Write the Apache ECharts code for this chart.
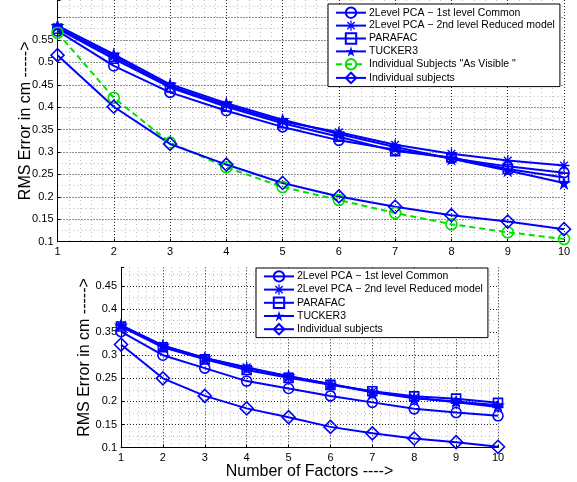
<!DOCTYPE html>
<html>
<head>
<meta charset="utf-8">
<script src="https://cdn.jsdelivr.net/npm/echarts@6/dist/echarts.min.js"></script>
<style>html,body{margin:0;padding:0;background:#fff}#main{width:577px;height:482px}</style>
</head>
<body>
<div id="main"></div>
<script>
var factors = [1, 2, 3, 4, 5, 6, 7, 8, 9, 10];

// upper panel
var topCommon  = [0.570, 0.492, 0.433, 0.392, 0.356, 0.326, 0.305, 0.286, 0.268, 0.254];
var topReduced = [0.578, 0.513, 0.447, 0.405, 0.368, 0.344, 0.316, 0.296, 0.281, 0.270];
var topParafac = [0.575, 0.508, 0.444, 0.401, 0.364, 0.334, 0.302, 0.288, 0.262, 0.243];
var topTucker  = [0.582, 0.518, 0.451, 0.409, 0.372, 0.340, 0.311, 0.285, 0.259, 0.231];
var topVisible = [0.566, 0.421, 0.321, 0.266, 0.222, 0.193, 0.164, 0.139, 0.121, 0.106];
var topIndiv   = [0.516, 0.401, 0.318, 0.272, 0.231, 0.201, 0.178, 0.159, 0.145, 0.128];

// lower panel
var botCommon  = [0.351, 0.300, 0.272, 0.244, 0.228, 0.212, 0.198, 0.184, 0.176, 0.169];
var botReduced = [0.364, 0.320, 0.294, 0.274, 0.254, 0.238, 0.221, 0.208, 0.198, 0.188];
var botParafac = [0.362, 0.317, 0.291, 0.268, 0.251, 0.236, 0.222, 0.211, 0.206, 0.197];
var botTucker  = [0.365, 0.321, 0.294, 0.272, 0.255, 0.237, 0.220, 0.207, 0.200, 0.192];
var botIndiv   = [0.323, 0.250, 0.212, 0.185, 0.166, 0.145, 0.131, 0.120, 0.112, 0.102];

var yTicks = [0.1, 0.15, 0.2, 0.25, 0.3, 0.35, 0.4, 0.45, 0.5, 0.55];

var names = [
    '2Level PCA \u2212 1st level Common',
    '2Level PCA \u2212 2nd level Reduced model',
    'PARAFAC',
    'TUCKER3',
    'Individual Subjects "As Visible "',
    'Individual subjects'
];

var BLUE = '#0000ff', GREEN = '#00e000';
var font = 'Liberation Sans, Arial, Helvetica, sans-serif';

var asterisk = 'path://M0 4.4L10 4.4L10 5.6L0 5.6Z M4.4 0L5.6 0L5.6 10L4.4 10Z ' +
    'M1.08 1.92L1.92 1.08L8.92 8.08L8.08 8.92Z M8.08 1.08L8.92 1.92L1.92 8.92L1.08 8.08Z';
var star = 'path://M5 0L6.117 3.463L9.755 3.455L6.807 5.587L7.939 9.045L5 6.9L2.061 9.045L3.193 5.587L0.245 3.455L3.883 3.463Z';

var styles = [
    {symbol: 'circle', size: 10, hollow: true},
    {symbol: asterisk, size: 11},
    {symbol: 'rect', size: 9, hollow: true},
    {symbol: star, size: 14},
    {symbol: 'circle', size: 11, hollow: true, color: GREEN, dashed: true},
    {symbol: 'diamond', size: 13, hollow: true}
];

function pairs(arr) {
    return factors.map(function (f, i) { return [f, arr[i]]; });
}

function line(k, arr, idx) {
    var s = styles[k], c = s.color || BLUE;
    return {
        name: names[k],
        type: 'line',
        xAxisIndex: idx,
        yAxisIndex: idx,
        data: pairs(arr),
        symbol: s.symbol,
        symbolSize: s.size,
        showAllSymbol: true,
        clip: false,
        lineStyle: {color: c, width: 2, type: s.dashed ? [6, 4] : 'solid'},
        itemStyle: s.hollow
            ? {color: 'rgba(0,0,0,0)', borderColor: c, borderWidth: 1.6}
            : {color: c, borderWidth: 0},
        emphasis: {disabled: true}
    };
}

function xAxis(idx, withName) {
    var a = {
        gridIndex: idx,
        type: 'value',
        min: 1, max: 10, interval: 1,
        axisLine: {show: true, lineStyle: {color: '#000', width: 1}},
        axisTick: {show: true, inside: true, length: 3, lineStyle: {color: '#000'}},
        axisLabel: {color: '#000', fontSize: 11, fontFamily: font, margin: 5},
        splitLine: {show: true, lineStyle: {color: '#222', width: 1, type: [1, 2]}},
        minorTick: {show: false, splitNumber: 5},
        minorSplitLine: {show: true, lineStyle: {color: '#bbb', width: 1, type: [1, 3]}}
    };
    if (withName) {
        a.name = 'Number of Factors ---->';
        a.nameLocation = 'middle';
        a.nameGap = 16;
        a.nameMoveOverlap = false;
        a.nameTextStyle = {color: '#000', fontSize: 16, fontFamily: font};
    }
    return a;
}

function yAxis(idx, max, gap) {
    return {
        gridIndex: idx,
        type: 'value',
        min: 0.1, max: max, interval: 0.05,
        name: 'RMS Error in cm ----->',
        nameLocation: 'middle',
        nameGap: gap,
        nameMoveOverlap: false,
        nameTextStyle: {color: '#000', fontSize: 16, fontFamily: font},
        axisLine: {show: true, lineStyle: {color: '#000', width: 1}},
        axisTick: {show: true, inside: true, length: 3, lineStyle: {color: '#000'}},
        axisLabel: {
            color: '#000', fontSize: 11, fontFamily: font, margin: 4,
            formatter: function (v) {
                for (var i = 0; i < yTicks.length; i++) {
                    if (Math.abs(yTicks[i] - v) < 1e-6 && v < max - 0.02) return String(yTicks[i]);
                }
                return '';
            }
        },
        splitLine: {show: true, showMaxLine: false, lineStyle: {color: '#222', width: 1, type: [1, 2]}},
        minorTick: {show: false, splitNumber: 2},
        minorSplitLine: {show: true, lineStyle: {color: '#bbb', width: 1, type: [1, 3]}}
    };
}

function legend(left, top, list, gap, pad) {
    return {
        orient: 'vertical',
        left: left, top: top,
        data: list,
        itemWidth: 30, itemHeight: 13, itemGap: gap,
        padding: [pad, 5, pad, 7],
        backgroundColor: '#fff',
        borderColor: '#000', borderWidth: 1,
        selectedMode: false,
        textStyle: {color: '#000', fontSize: 10.5, fontFamily: font, padding: [0, 0, 0, -2]},
        z: 10
    };
}

var myChart = echarts.init(document.getElementById('main'));
var option = {
    animation: false,
    backgroundColor: '#fff',
    grid: [
        {left: 57.5, right: 13, top: -19.7, bottom: 240.3},
        {left: 121, right: 79, top: 267.3, bottom: 34.3}
    ],
    xAxis: [xAxis(0, false), xAxis(1, true)],
    yAxis: [yAxis(0, 0.639, 24), yAxis(1, 0.49, 28)],
    legend: [
        legend(328, 4, names, 1.2, 2.5),
        legend(256, 268, [names[0], names[1], names[2], names[3], names[5]], 1.5, 2.2)
    ],
    series: [
        line(0, topCommon, 0),
        line(1, topReduced, 0),
        line(2, topParafac, 0),
        line(3, topTucker, 0),
        line(4, topVisible, 0),
        line(5, topIndiv, 0),
        line(0, botCommon, 1),
        line(1, botReduced, 1),
        line(2, botParafac, 1),
        line(3, botTucker, 1),
        line(5, botIndiv, 1)
    ]
};
myChart.setOption(option);
</script>
</body>
</html>
